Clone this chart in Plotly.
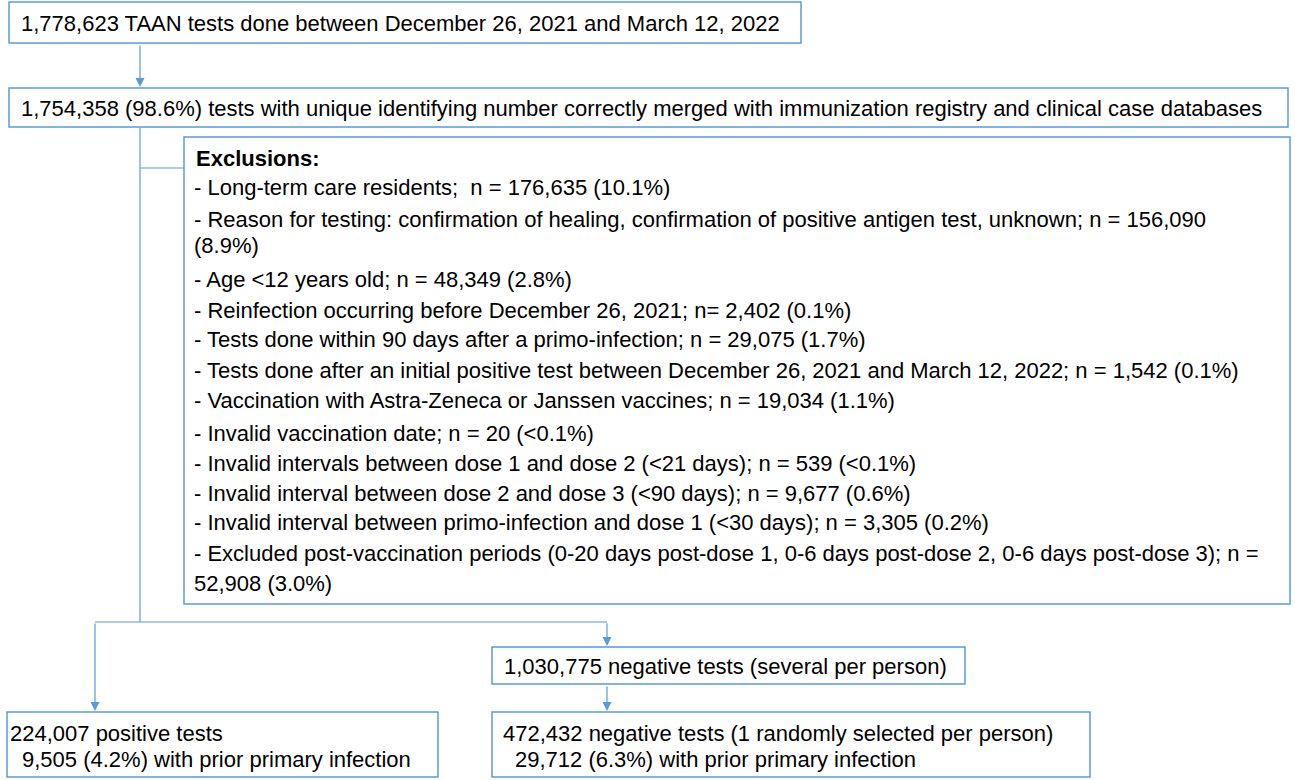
import plotly.graph_objects as go

# ---- text content (data) ----
top_text = "1,778,623 TAAN tests done between December 26, 2021 and March 12, 2022"
merged_text = ("1,754,358 (98.6%) tests with unique identifying number correctly merged "
               "with immunization registry and clinical case databases")
exclusion_title = "Exclusions:"
exclusion_lines = [
    "- Long-term care residents;  n = 176,635 (10.1%)",
    "- Reason for testing: confirmation of healing, confirmation of positive antigen test, unknown; n = 156,090",
    "(8.9%)",
    "- Age <12 years old; n = 48,349 (2.8%)",
    "- Reinfection occurring before December 26, 2021; n= 2,402 (0.1%)",
    "- Tests done within 90 days after a primo-infection; n = 29,075 (1.7%)",
    "- Tests done after an initial positive test between December 26, 2021 and March 12, 2022; n = 1,542 (0.1%)",
    "- Vaccination with Astra-Zeneca or Janssen vaccines; n = 19,034 (1.1%)",
    "- Invalid vaccination date; n = 20 (<0.1%)",
    "- Invalid intervals between dose 1 and dose 2 (<21 days); n = 539 (<0.1%)",
    "- Invalid interval between dose 2 and dose 3 (<90 days); n = 9,677 (0.6%)",
    "- Invalid interval between primo-infection and dose 1 (<30 days); n = 3,305 (0.2%)",
    "- Excluded post-vaccination periods (0-20 days post-dose 1, 0-6 days post-dose 2, 0-6 days post-dose 3); n =",
    "52,908 (3.0%)",
]
neg_all_text = "1,030,775 negative tests (several per person)"
pos_lines = ["224,007 positive tests", "9,505 (4.2%) with prior primary infection"]
neg_sel_lines = ["472,432 negative tests (1 randomly selected per person)",
                 "29,712 (6.3%) with prior primary infection"]

# ---- layout geometry (pixels) ----
BLUE = "#5B9BD5"
FONT = "Liberation Sans, Arial, sans-serif"
FS = 22
W, H = 1295, 780

boxes = [
    (9, 2, 801, 43),
    (9, 88, 1288, 127),
    (184, 137, 1290, 604),
    (492, 647, 965, 684),
    (7, 712, 438, 777),
    (492, 712, 1090, 777),
]
lines = [
    (140, 128, 140, 622),
    (140, 168, 184, 168),
    (95, 622, 607, 622),
]
arrows = [
    (140, 44, 140, 87),
    (95, 622, 95, 711),
    (607, 622, 607, 646),
    (607, 685, 607, 711),
]
excl_y = [187, 219, 245, 279, 310, 339, 370, 400, 433, 463, 493, 522, 553, 583]

fig = go.Figure()
shapes = []
for (x0, y0, x1, y1) in boxes:
    shapes.append(dict(type="rect", x0=x0, y0=y0, x1=x1, y1=y1, xref="x", yref="y",
                       line=dict(color=BLUE, width=1.5), fillcolor="white", layer="below"))
for (x0, y0, x1, y1) in lines:
    shapes.append(dict(type="line", x0=x0, y0=y0, x1=x1, y1=y1, xref="x", yref="y",
                       line=dict(color=BLUE, width=1.2), layer="below"))

ann = []
for (x0, y0, x1, y1) in arrows:
    ann.append(dict(x=x1, y=y1, ax=x0, ay=y0, xref="x", yref="y", axref="x", ayref="y",
                    text="", showarrow=True, arrowhead=2, arrowsize=1.5, arrowwidth=1.2,
                    arrowcolor=BLUE, standoff=0, startstandoff=0))

def txt(x, y, s, bold=False):
    if bold:
        s = "<b>" + s + "</b>"
    ann.append(dict(x=x, y=y, xref="x", yref="y", text=s.replace("  ", "&nbsp; "),
                    showarrow=False, xanchor="left", yanchor="middle",
                    font=dict(family=FONT, size=FS, color="black")))

txt(19, 23, top_text)
txt(19, 108, merged_text)
txt(194, 158, exclusion_title, bold=True)
for s, y in zip(exclusion_lines, excl_y):
    txt(192, y, s)
txt(502, 666, neg_all_text)
txt(8, 733, pos_lines[0])
txt(20, 759, pos_lines[1])
txt(501, 733, neg_sel_lines[0])
txt(513, 759, neg_sel_lines[1])

fig.update_layout(
    width=W, height=H, margin=dict(l=0, r=0, t=0, b=0),
    paper_bgcolor="white", plot_bgcolor="white",
    xaxis=dict(range=[0, W], visible=False, fixedrange=True),
    yaxis=dict(range=[H, 0], visible=False, fixedrange=True),
    shapes=shapes, annotations=ann, showlegend=False,
)

fig.write_html("out.html", config={"displayModeBar": False},
               post_script="document.body.style.margin='0';document.body.style.overflow='hidden';")
